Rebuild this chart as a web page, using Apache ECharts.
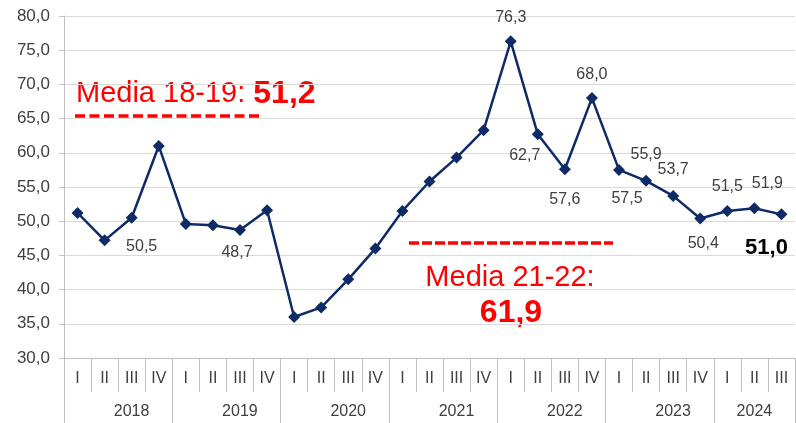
<!DOCTYPE html>
<html>
<head>
<meta charset="utf-8">
<script src="https://cdn.jsdelivr.net/npm/echarts@6/dist/echarts.min.js"></script>
<style>
  html, body { margin:0; padding:0; background:#fff; }
  #chart { width:796px; height:423px; }
</style>
</head>
<body>
<div id="chart"></div>
<script>
// --- data ---
const years      = ['2018', '2019', '2020', '2021', '2022', '2023', '2024']
const quarterCnt = [4, 4, 4, 4, 4, 4, 3]
const quarterNames = ['I', 'II', 'III', 'IV']
const values = [
  51.2, 47.2, 50.5, 61.0,
  49.6, 49.4, 48.7, 51.6,
  36.0, 37.4, 41.5, 46.0,
  51.5, 55.8, 59.3, 63.3,
  76.3, 62.7, 57.6, 68.0,
  57.5, 55.9, 53.7, 50.4,
  51.5, 51.9, 51.0
]
const yTicks = { min: 30, max: 80, step: 5 }

// build the category lists
const quarters = []
const yearCats = []
const yearStart = []   // index of first quarter of every year
years.forEach((y, i) => {
  yearStart.push(quarters.length)
  for (let q = 0; q < quarterCnt[i]; q++) {
    quarters.push(quarterNames[q])
    yearCats.push(y)
  }
})

const fmt = v => v.toFixed(1).replace('.', ',')

// where the value labels sit (index -> offset from the marker)
const labelPlace = {
  2:  [10, 29],
  6:  [-3, 23],
  16: [0, -24],
  17: [-13, 21],
  18: [0, 30],
  19: [0, -23],
  20: [8, 29],
  21: [0, -26],
  22: [0, -26],
  23: [3, 25],
  24: [0, -24],
  25: [13, -25],
  26: [-15, 34]
}

const seriesData = values.map((v, i) => {
  const p = labelPlace[i]
  if (!p) return v
  const last = i === values.length - 1
  return {
    value: v,
    label: {
      show: true,
      position: 'inside',
      offset: p,
      formatter: d => fmt(d.value),
      fontFamily: 'Liberation Sans',
      fontSize: last ? 22 : 16,
      fontWeight: last ? 'bold' : 'normal',
      color: last ? '#000' : '#404040'
    }
  }
})

// year label: centre it on the middle of its quarters
const yearLabelIdx = {}
years.forEach((y, i) => {
  const mid = yearStart[i] + Math.floor((quarterCnt[i] - 1) / 2)
  yearLabelIdx[mid] = quarterCnt[i] % 2 === 0 ? 'even' : 'odd'
})

const chart = echarts.init(document.getElementById('chart'))
chart.setOption({
  animation: false,
  grid: { left: 64, right: 1, top: 16, bottom: 65 },
  xAxis: [
    {
      type: 'category',
      data: quarters,
      boundaryGap: true,
      axisLine: { show: true, lineStyle: { color: '#bfbfbf', width: 1 } },
      axisTick: { show: true, interval: 0, length: 34, lineStyle: { color: '#bfbfbf' } },
      axisLabel: { interval: 0, margin: 13, fontFamily: 'Liberation Sans', fontSize: 16, color: '#404040' }
    },
    {
      type: 'category',
      data: yearCats,
      position: 'bottom',
      boundaryGap: true,
      axisLine: { show: false },
      axisTick: {
        show: true,
        length: 65,
        interval: idx => yearStart.includes(idx),
        lineStyle: { color: '#bfbfbf' }
      },
      axisLabel: {
        margin: 46,
        interval: idx => yearLabelIdx[idx] !== undefined,
        formatter: (v, idx) => yearLabelIdx[idx] === 'even' ? '{e|' + v + '}' : '{o|' + v + '}',
        rich: {
          e: { padding: [0, 0, 0, 54], fontFamily: 'Liberation Sans', fontSize: 16, color: '#404040' },
          o: { fontFamily: 'Liberation Sans', fontSize: 16, color: '#404040' }
        }
      }
    }
  ],
  yAxis: {
    type: 'value',
    min: yTicks.min,
    max: yTicks.max,
    interval: yTicks.step,
    axisLine: { show: true, lineStyle: { color: '#bfbfbf' } },
    axisTick: { show: true, length: 5, lineStyle: { color: '#bfbfbf' } },
    splitLine: { lineStyle: { color: '#d9d9d9' } },
    axisLabel: { margin: 14, formatter: fmt, fontFamily: 'Liberation Sans', fontSize: 17, color: '#404040' }
  },
  series: [{
    type: 'line',
    data: seriesData,
    symbol: 'diamond',
    symbolSize: 12,
    lineStyle: { color: '#0e2a67', width: 2.5 },
    itemStyle: { color: '#0e2a67' }
  }],
  graphic: [
    {
      type: 'text', left: 76, top: 78,
      style: {
        text: '{a|Media 18-19: }{b|51,2}',
        rich: {
          a: { fontFamily: 'Liberation Sans', fontSize: 29, fill: '#ff0000' },
          b: { fontFamily: 'Liberation Sans', fontSize: 32, fontWeight: 'bold', fill: '#ff0000' }
        }
      }
    },
    {
      type: 'line',
      shape: { x1: 75, y1: 116, x2: 262, y2: 116 },
      style: { stroke: '#ff0000', lineWidth: 3.5, lineDash: [10, 4.5] }
    },
    {
      type: 'line',
      shape: { x1: 409, y1: 243, x2: 613, y2: 243 },
      style: { stroke: '#ff0000', lineWidth: 3.5, lineDash: [10, 3] }
    },
    {
      type: 'text', x: 510, y: 278,
      style: {
        text: 'Media 21-22:', fontFamily: 'Liberation Sans', fontSize: 29, fill: '#ff0000',
        align: 'center', verticalAlign: 'middle'
      }
    },
    {
      type: 'text', x: 511, y: 313,
      style: {
        text: '61,9', fontFamily: 'Liberation Sans', fontSize: 32, fontWeight: 'bold', fill: '#ff0000',
        align: 'center', verticalAlign: 'middle'
      }
    }
  ]
})
</script>
</body>
</html>
